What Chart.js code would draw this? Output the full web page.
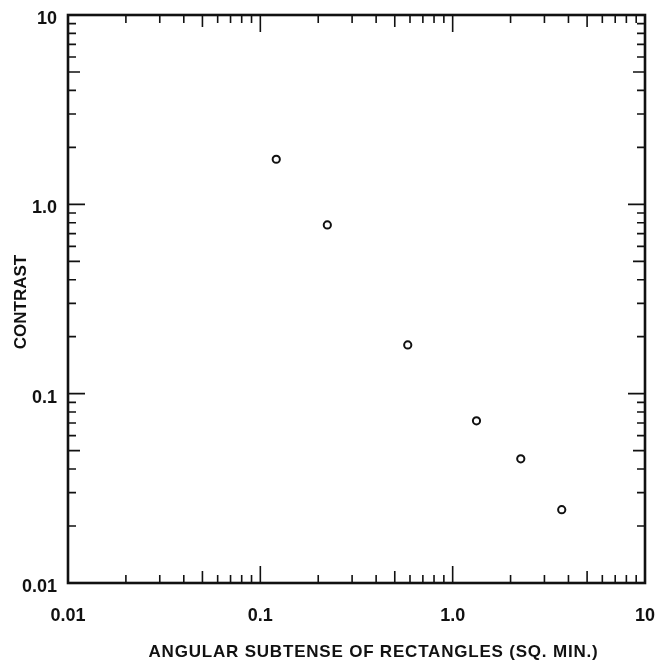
<!DOCTYPE html>
<html>
<head>
<meta charset="utf-8">
<script src="https://cdn.jsdelivr.net/npm/chart.js@4/dist/chart.umd.min.js"></script>
<style>
  html, body { margin: 0; padding: 0; background: #fff; }
  #wrap { width: 655px; height: 665px; }
</style>
</head>
<body>
<div id="wrap"><canvas id="c" width="655" height="665"></canvas></div>
<script>
// ---- data ----
const subtense = [0.121, 0.223, 0.584, 1.33, 2.26, 3.69];
const contrast = [1.73, 0.778, 0.181, 0.0719, 0.0453, 0.0244];

const xTickValues = [0.01, 0.1, 1, 10];
const xTickLabels = ['0.01', '0.1', '1.0', '10'];
const yTickValues = [0.01, 0.1, 1, 10];
const yTickLabels = ['0.01', '0.1', '1.0', '10'];

const xTitle = 'ANGULAR SUBTENSE OF RECTANGLES (SQ. MIN.)';
const yTitle = 'CONTRAST';

const FONT = '"Liberation Sans", Arial, sans-serif';
const INK = '#111';

const frameAndTicks = {
  id: 'frameAndTicks',
  afterDraw(chart) {
    const ctx = chart.ctx;
    const a = chart.chartArea;
    const xs = chart.scales.x, ys = chart.scales.y;
    ctx.save();
    ctx.strokeStyle = INK;
    ctx.lineCap = 'butt';
    // inward ticks on all four sides
    ctx.lineWidth = 1.6;
    const len = m => (m === 1 ? 17 : (m === 5 ? 12 : 8));
    for (let i = 0; i < xTickValues.length; i++) {
      const d = xTickValues[i];
      for (let m = 1; m <= 9; m++) {
        const v = d * m;
        if (v > xTickValues[xTickValues.length - 1] * 1.0001) break;
        const px = xs.getPixelForValue(v);
        const L = len(m);
        ctx.beginPath();
        ctx.moveTo(px, a.bottom); ctx.lineTo(px, a.bottom - L);
        ctx.moveTo(px, a.top); ctx.lineTo(px, a.top + L);
        ctx.stroke();
      }
    }
    for (let i = 0; i < yTickValues.length; i++) {
      const d = yTickValues[i];
      for (let m = 1; m <= 9; m++) {
        const v = d * m;
        if (v > yTickValues[yTickValues.length - 1] * 1.0001) break;
        const py = ys.getPixelForValue(v);
        const L = len(m);
        ctx.beginPath();
        ctx.moveTo(a.left, py); ctx.lineTo(a.left + L, py);
        ctx.moveTo(a.right, py); ctx.lineTo(a.right - L, py);
        ctx.stroke();
      }
    }
    // frame
    ctx.lineWidth = 2.6;
    ctx.strokeRect(a.left, a.top, a.right - a.left, a.bottom - a.top);

    // axis titles
    ctx.fillStyle = INK;
    ctx.font = 'bold 17px ' + FONT;
    ctx.textAlign = 'center';
    ctx.textBaseline = 'middle';
    ctx.letterSpacing = '0.8px';
    ctx.fillText(xTitle, (a.left + a.right) / 2 + 17, 652);
    ctx.letterSpacing = '0px';
    ctx.translate(21, (a.top + a.bottom) / 2 + 3);
    ctx.rotate(-Math.PI / 2);
    ctx.fillText(yTitle, 0, 0);
    ctx.restore();
  }
};

new Chart(document.getElementById('c'), {
  type: 'scatter',
  data: {
    datasets: [{
      data: subtense.map((x, i) => ({ x: x, y: contrast[i] })),
      pointStyle: 'circle',
      pointRadius: 3.6,
      pointHoverRadius: 3.6,
      pointBorderWidth: 2,
      pointBorderColor: INK,
      pointBackgroundColor: '#fff',
      showLine: false
    }]
  },
  options: {
    responsive: false,
    animation: false,
    devicePixelRatio: 1,
    layout: { padding: { top: 15, right: 10, left: 0, bottom: 0 } },
    plugins: { legend: { display: false }, tooltip: { enabled: false } },
    scales: {
      x: {
        type: 'logarithmic',
        min: 0.01, max: 10,
        grid: { display: false, drawTicks: false },
        border: { display: false },
        title: { display: false },
        afterBuildTicks: s => { s.ticks = xTickValues.map(v => ({ value: v })); },
        afterFit: s => { s.height = 82; s.paddingLeft = 0; s.paddingRight = 0; },
        ticks: {
          autoSkip: false, maxRotation: 0, minRotation: 0,
          padding: 22,
          color: INK,
          font: { family: FONT, size: 18, weight: 'bold' },
          callback: (v) => { const i = xTickValues.findIndex(t => Math.abs(t - v) / t < 1e-6); return i >= 0 ? xTickLabels[i] : ''; }
        }
      },
      y: {
        type: 'logarithmic',
        min: 0.01, max: 10,
        grid: { display: false, drawTicks: false },
        border: { display: false },
        title: { display: false },
        afterBuildTicks: s => { s.ticks = yTickValues.map(v => ({ value: v })); },
        afterFit: s => { s.width = 68; s.paddingTop = 0; s.paddingBottom = 0; },
        ticks: {
          autoSkip: false,
          padding: 11,
          labelOffset: 4,
          color: INK,
          font: { family: FONT, size: 18, weight: 'bold' },
          callback: (v) => { const i = yTickValues.findIndex(t => Math.abs(t - v) / t < 1e-6); return i >= 0 ? yTickLabels[i] : ''; }
        }
      }
    }
  },
  plugins: [frameAndTicks]
});
</script>
</body>
</html>
